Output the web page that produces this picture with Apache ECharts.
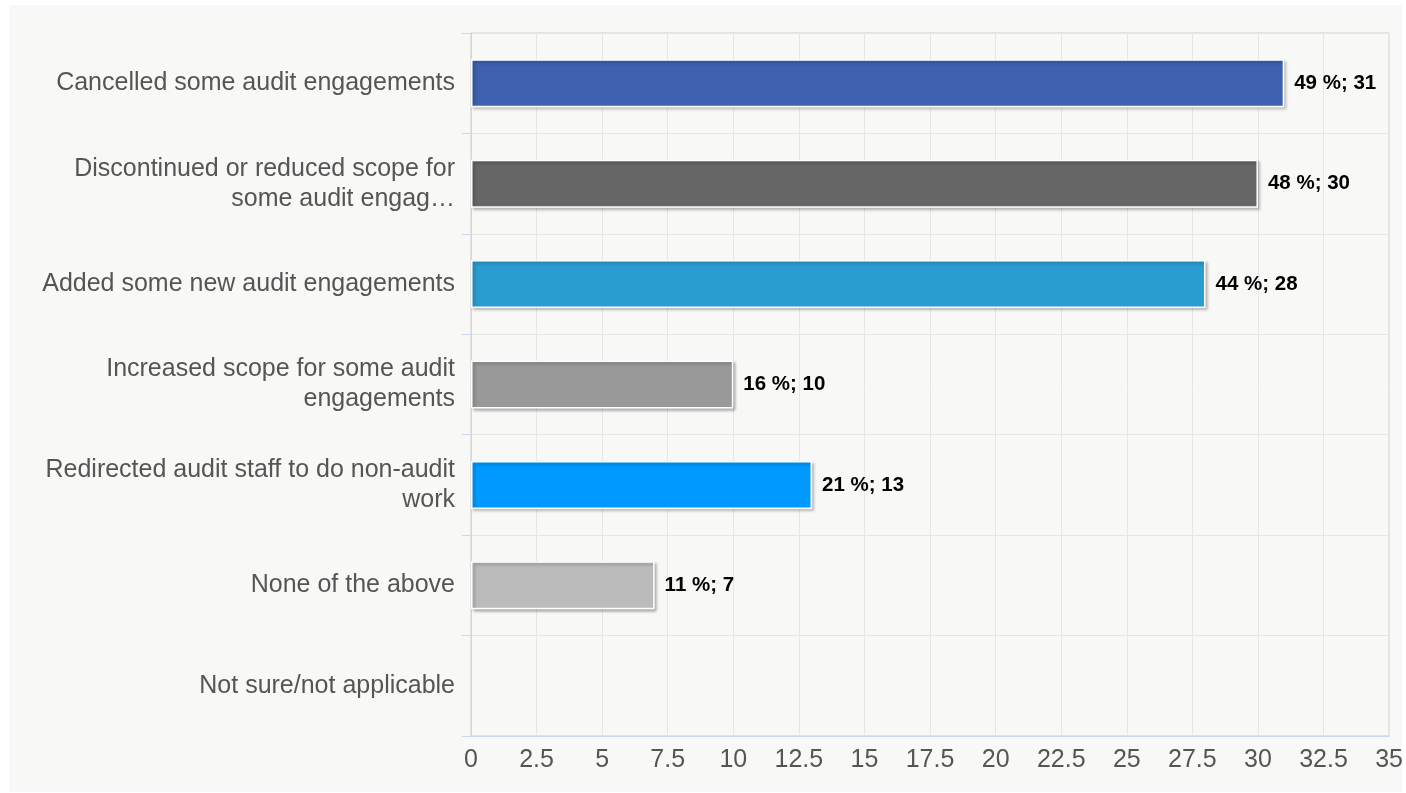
<!DOCTYPE html>
<html>
<head>
<meta charset="utf-8">
<script src="https://cdn.jsdelivr.net/npm/echarts@6/dist/echarts.min.js"></script>
<style>
  html, body { margin: 0; padding: 0; background: #ffffff; }
  #panel { position: absolute; left: 9px; top: 5px; width: 1393px; height: 787px; background: #f8f8f6; }
  #chart { position: absolute; left: 0; top: 0; width: 1406px; height: 793px; }
</style>
</head>
<body>
<div id="panel"></div>
<div id="chart"></div>
<script>
// Survey answers, top to bottom
const categories = [
  'Cancelled some audit engagements',
  'Discontinued or reduced scope for\nsome audit engag…',
  'Added some new audit engagements',
  'Increased scope for some audit\nengagements',
  'Redirected audit staff to do non-audit\nwork',
  'None of the above',
  'Not sure/not applicable'
];
// Number of respondents per answer
const counts = [31, 30, 28, 10, 13, 7, 0];
// Share of respondents per answer (%)
const percents = [49, 48, 44, 16, 21, 11, 0];
// One fill colour per bar
const barColors = ['#3d61b0', '#666666', '#2a9dd0', '#999999', '#0099ff', '#bbbbbb', '#cccccc'];
// Value axis ticks
const xMin = 0, xMax = 35, xStep = 2.5;

const chart = echarts.init(document.getElementById('chart'), null, { renderer: 'canvas' });

const font = '"Liberation Sans", Arial, sans-serif';

chart.setOption({
  backgroundColor: 'transparent',
  animation: false,
  grid: {
    left: 471, right: 16, top: 33, bottom: 57,
    show: true, borderColor: '#cccccc', borderWidth: 1, backgroundColor: 'transparent'
  },
  xAxis: {
    type: 'value',
    min: xMin, max: xMax, interval: xStep,
    axisLine: { show: true, lineStyle: { color: '#c9d7f0', width: 1 } },
    axisTick: { show: false },
    splitLine: { show: true, lineStyle: { color: '#e6e6e6', width: 1 } },
    axisLabel: {
      color: '#555555', fontFamily: font, fontSize: 25, margin: 12,
      formatter: v => String(v)
    }
  },
  yAxis: {
    type: 'category',
    inverse: true,
    data: categories,
    axisLine: { show: true, lineStyle: { color: '#c9d7f0', width: 1 } },
    axisTick: { show: true, length: 9, lineStyle: { color: '#c9d7f0' } },
    splitLine: { show: true, lineStyle: { color: '#e6e6e6', width: 1 } },
    axisLabel: {
      color: '#555555', fontFamily: font, fontSize: 25, margin: 16,
      lineHeight: 30, align: 'right', padding: [6, 0, 0, 0]
    }
  },
  series: [{
    type: 'bar',
    barWidth: 48,
    data: counts.map((v, i) => ({
      value: v,
      itemStyle: v === 0
        ? { color: barColors[i], borderWidth: 0, shadowColor: 'transparent' }
        : { color: barColors[i] }
    })),
    itemStyle: {
      borderColor: '#ffffff', borderWidth: 1.5,
      shadowColor: 'rgba(0,0,0,0.28)', shadowBlur: 3, shadowOffsetX: 2, shadowOffsetY: 2
    },
    label: {
      show: true, position: 'right', distance: 10,
      color: '#000000', fontFamily: font, fontSize: 20.5, fontWeight: 'bold',
      padding: [3, 0, 0, 0],
      formatter: p => counts[p.dataIndex] === 0 ? '' : percents[p.dataIndex] + ' %; ' + counts[p.dataIndex]
    }
  }]
});
</script>
</body>
</html>
